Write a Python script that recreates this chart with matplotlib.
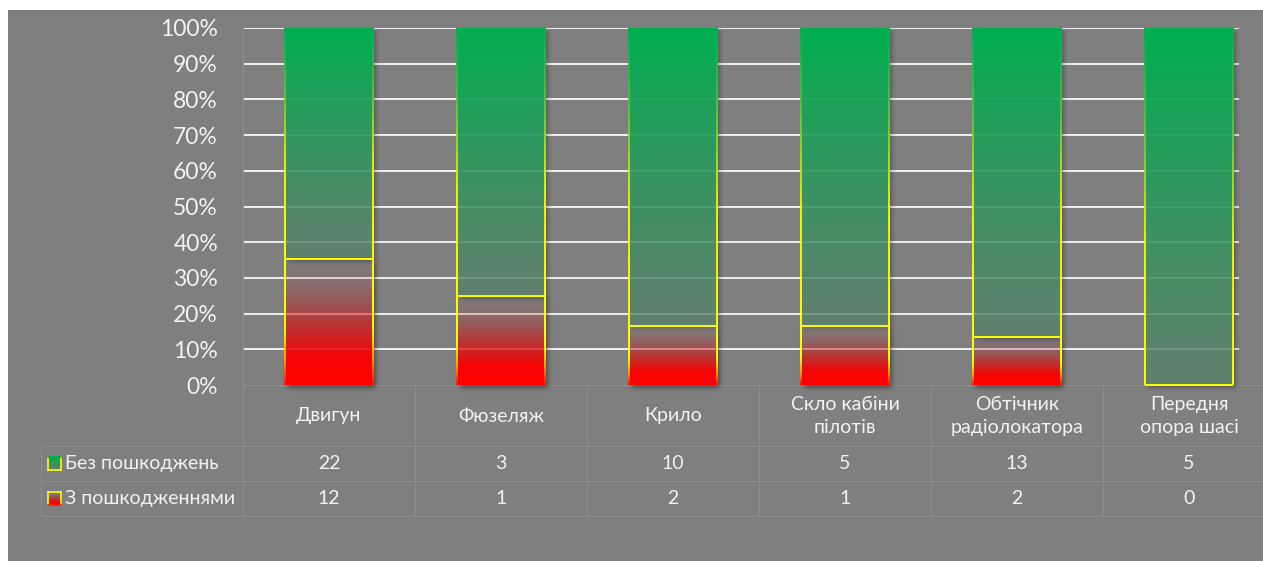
import numpy as np
import matplotlib
matplotlib.use("Agg")
import matplotlib.pyplot as plt
from matplotlib.collections import LineCollection
from matplotlib.patches import Rectangle
from matplotlib.transforms import blended_transform_factory

# ---- data -------------------------------------------------------------
categories = ["Двигун", "Фюзеляж", "Крило", "Скло кабіни\nпілотів",
              "Обтічник\nрадіолокатора", "Передня\nопора шасі"]
undamaged = [22, 3, 10, 5, 13, 5]     # Без пошкоджень
damaged = [12, 1, 2, 1, 2, 0]         # З пошкодженнями
series_names = ["Без пошкоджень", "З пошкодженнями"]
tick_values = [0, 0.1, 0.2, 0.3, 0.4, 0.5, 0.6, 0.7, 0.8, 0.9, 1.0]
tick_labels = ["0%", "10%", "20%", "30%", "40%", "50%", "60%", "70%", "80%", "90%", "100%"]

# ---- figure geometry (pixels) -------------------------------------------
W, H = 1263, 561
DPI = 100
BG = "#7f7f7f"
TXT = "#f2f2f2"
LINE = "#8d8d8d"
FONT = ["Lato", "DejaVu Sans"]
plt.rcParams["font.family"] = FONT

fig = plt.figure(figsize=(W / DPI, H / DPI), dpi=DPI, facecolor="white")


def fx(px):
    return px / W


def fy(py):
    return 1 - py / H


# grey chart area
fig.patches.append(Rectangle((fx(8), 0), 1, fy(10), transform=fig.transFigure,
                             facecolor=BG, edgecolor="none", zorder=-10))

plot_left, plot_top, plot_bottom = 243, 28, 385
col_w = 172
n = len(categories)
ax = fig.add_axes([fx(plot_left), fy(plot_bottom), n * col_w / W,
                   (plot_bottom - plot_top) / H])
ax.set_facecolor("none")
ax.set_xlim(-0.5, n - 0.5)
ax.set_ylim(0, 1)
for s in ["top", "right", "bottom"]:
    ax.spines[s].set_visible(False)
ax.spines["left"].set_color(LINE)
ax.spines["left"].set_linewidth(0.8)
ax.set_xticks([])
ax.set_yticks(tick_values)
ax.set_yticklabels(tick_labels, fontsize=16.5, color=TXT)
ax.tick_params(axis="y", length=0, pad=18)

px_x = 1 / col_w                          # data units per pixel, x
px_y = 1 / (plot_bottom - plot_top)       # data units per pixel, y

bar_w = 88 * px_x
totals = [u + d for u, d in zip(undamaged, damaged)]
share_dmg = [d / t for d, t in zip(damaged, totals)]
share_ok = [u / t for u, t in zip(undamaged, totals)]

# gridlines end at the last column's bar
grid_end = (n - 1) + bar_w / 2 + 6 * px_x
ax.hlines(tick_values[1:], -0.5, grid_end, colors="#f0f0f0", linewidth=1.4, zorder=0.5)
ax.hlines([0], -0.5, n - 0.5, colors=LINE, linewidth=0.8, zorder=0.5, clip_on=False)


def interp_stops(t, stops):
    """Piecewise-linear interpolation of colour stops [(t, (r,g,b,a)), ...]."""
    ts = np.array([s[0] for s in stops])
    vals = np.array([s[1] for s in stops], dtype=float)
    return np.stack([np.interp(t, ts, vals[:, k]) for k in range(vals.shape[1])], axis=-1)


def gray_comp(target, alpha):
    return tuple(np.clip((np.array(target) - (1 - alpha) * 127) / alpha, 0, 255) / 255) + (alpha,)


GREEN_FILL = [(0.0, gray_comp((98, 128, 110), 0.8)),
              (1.0, (0.0, 176 / 255, 80 / 255, 1.0))]
RED_FILL = [(0.0, (1.0, 0.0, 0.0, 1.0)),
            (0.22, (0.98, 0.0, 0.0, 0.97)),
            (0.5, (0.85, 0.05, 0.05, 0.62)),
            (0.8, (0.7, 0.15, 0.15, 0.2)),
            (1.0, (0.6, 0.2, 0.2, 0.0))]
GREEN_EDGE = [(0.0, (1.0, 1.0, 0.0, 1.0)), (0.4, (0.92, 0.95, 0.0, 1.0)),
              (0.75, (0.3, 0.75, 0.25, 1.0)), (1.0, (0.0, 0.69, 0.31, 1.0))]
RED_EDGE = [(0.0, (1.0, 0.05, 0.0, 1.0)), (0.2, (1.0, 0.6, 0.0, 1.0)),
            (0.45, (1.0, 1.0, 0.0, 1.0)), (1.0, (1.0, 1.0, 0.0, 1.0))]


def gradient_fill(x0, x1, y0, y1, stops, z):
    t = np.linspace(0, 1, 256)
    rgba = interp_stops(t, stops)[:, None, :].repeat(2, axis=1)
    ax.imshow(rgba, extent=[x0, x1, y0, y1], origin="lower", aspect="auto",
              interpolation="bilinear", zorder=z)


def blur1d(a, sigma, axis):
    r = int(3 * sigma)
    k = np.exp(-0.5 * (np.arange(-r, r + 1) / sigma) ** 2)
    k /= k.sum()
    return np.apply_along_axis(lambda v: np.convolve(v, k, mode="same"), axis, a)


def drop_shadow(x0, x1, y0, y1, z, dx=3, dy=3, sigma=2.5, strength=0.4):
    """Soft shadow offset right/down, kept outside the shape itself."""
    pad = 14
    wpx = int(round((x1 - x0) / px_x))
    hpx = int(round((y1 - y0) / px_y))
    shape = np.zeros((hpx + 2 * pad, wpx + 2 * pad))
    shape[pad:pad + hpx, pad:pad + wpx] = 1.0
    sh = np.zeros_like(shape)
    sh[pad - dy:pad - dy + hpx, pad + dx:pad + dx + wpx] = 1.0
    sh = blur1d(blur1d(sh, sigma, 0), sigma, 1) * (1 - shape)
    rgba = np.zeros(sh.shape + (4,))
    rgba[..., 3] = sh * strength
    ax.imshow(rgba, extent=[x0 - pad * px_x, x1 + pad * px_x,
                            y0 - pad * px_y, y1 + pad * px_y],
              origin="lower", aspect="auto", interpolation="bilinear", zorder=z,
              clip_on=False)


def gradient_sides(x0, x1, y0, y1, stops, z, lw=1.4):
    k = 60
    ys = np.linspace(y0, y1, k + 1)
    t = (0.5 * (ys[:-1] + ys[1:]) - y0) / (y1 - y0)
    cols = interp_stops(t, stops)
    segs = []
    colors = []
    for xe in (x0, x1):
        for a, b, c in zip(ys[:-1], ys[1:], cols):
            segs.append([(xe, a), (xe, b)])
            colors.append(c)
    ax.add_collection(LineCollection(segs, colors=colors, linewidths=lw,
                                     zorder=z, capstyle="butt"))


for i in range(n):
    x0, x1 = i - bar_w / 2, i + bar_w / 2
    yd = share_dmg[i]
    # damaged segment (bottom)
    if damaged[i] > 0:
        drop_shadow(x0, x1, 0, yd, z=1.0)
        gradient_fill(x0, x1, 0, yd, RED_FILL, z=2.0)
        gradient_sides(x0, x1, 0, yd, RED_EDGE, z=5.0)
    # undamaged segment (top)
    drop_shadow(x0, x1, yd, yd + share_ok[i], z=3.0, strength=0.3)
    gradient_fill(x0, x1, yd, yd + share_ok[i], GREEN_FILL, z=4.0)
    gradient_sides(x0, x1, yd, yd + share_ok[i], GREEN_EDGE, z=5.0)
    ax.plot([x0, x1], [yd, yd], color="#ffff00", lw=1.4, zorder=5.5,
            solid_capstyle="butt", clip_on=False)

ax.set_xlim(-0.5, n - 0.5)
ax.set_ylim(0, 1)

# ---- data table below the plot -------------------------------------------
row_lines = [446, 481, 516]
legend_left = 41
tr = blended_transform_factory(ax.transData, fig.transFigure)

# column dividers
for k in range(n + 1):
    fig.lines.append(plt.Line2D([fx(plot_left + k * col_w)] * 2, [fy(plot_bottom), fy(516)],
                                transform=fig.transFigure, color=LINE, lw=0.8))
fig.lines.append(plt.Line2D([fx(legend_left)] * 2, [fy(446), fy(516)],
                            transform=fig.transFigure, color=LINE, lw=0.8))
for yl in row_lines:
    fig.lines.append(plt.Line2D([fx(legend_left), 1.0], [fy(yl)] * 2,
                                transform=fig.transFigure, color=LINE, lw=0.8))

TABLE_FS = 14

# category header
for i, c in enumerate(categories):
    ax.text(i, fy(416), c, transform=tr, ha="center", va="center",
            fontsize=TABLE_FS, color=TXT, linespacing=1.45, multialignment="center")

# values
row_centers = [463.5, 498.5]
for r, vals in enumerate([undamaged, damaged]):
    for i, v in enumerate(vals):
        ax.text(i, fy(row_centers[r]), str(v), transform=tr, ha="center", va="center",
                fontsize=TABLE_FS, color=TXT)
    fig.text(fx(65), fy(row_centers[r]), series_names[r], ha="left", va="center",
             fontsize=TABLE_FS, color=TXT)

# legend keys
key_fill = [GREEN_FILL, RED_FILL]
key_edge = [[(1.0, 1.0, 0.0), (0.0, 0.69, 0.31)], [(1.0, 0.1, 0.0), (1.0, 1.0, 0.0)]]
for r in range(2):
    kax = fig.add_axes([fx(48), fy(row_centers[r] + 6.5), 13 / W, 13 / H])
    t = np.linspace(0, 1, 64)
    rgba = interp_stops(t, key_fill[r])[:, None, :].repeat(2, axis=1)
    kax.set_facecolor(BG)
    kax.imshow(rgba, extent=[0, 1, 0, 1], origin="lower", aspect="auto")
    kax.set_xticks([])
    kax.set_yticks([])
    bottom_c, top_c = key_edge[r]
    kax.spines["bottom"].set_color(bottom_c)
    kax.spines["top"].set_color(top_c)
    kax.spines["left"].set_color(bottom_c if r == 0 else top_c)
    kax.spines["right"].set_color(bottom_c if r == 0 else top_c)
    for s in kax.spines.values():
        s.set_linewidth(1.2)

fig.savefig("out.png", dpi=DPI, facecolor="white")
